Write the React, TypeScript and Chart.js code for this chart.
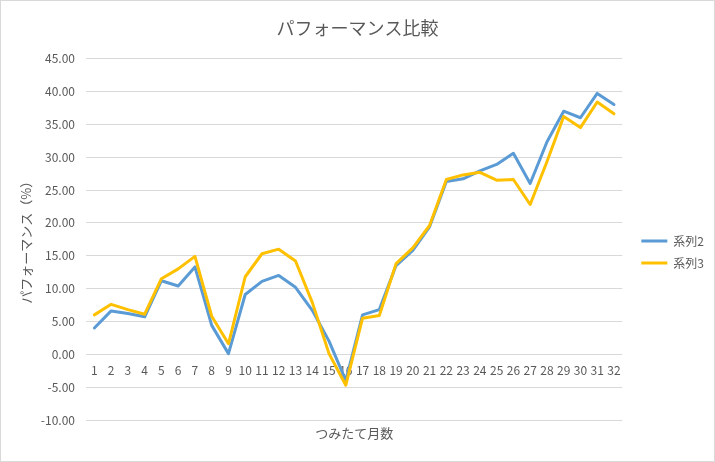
import { useEffect, useRef } from 'react';
import Chart from 'chart.js/auto';

const months = [
  '1', '2', '3', '4', '5', '6', '7', '8', '9', '10', '11', '12', '13', '14', '15', '16',
  '17', '18', '19', '20', '21', '22', '23', '24', '25', '26', '27', '28', '29', '30', '31', '32',
];

// 系列2 (blue)
const series2 = [
  4.0, 6.6, 6.2, 5.7, 11.2, 10.4, 13.3, 4.4, 0.1, 9.1, 11.1, 12.0, 10.2, 6.7, 2.0, -4.0,
  6.0, 6.8, 13.5, 15.8, 19.4, 26.3, 26.7, 27.9, 28.9, 30.6, 26.0, 32.3, 37.0, 36.0, 39.7, 38.0,
];

// 系列3 (yellow)
const series3 = [
  6.0, 7.6, 6.8, 6.1, 11.5, 13.0, 14.9, 5.8, 1.6, 11.8, 15.3, 16.0, 14.2, 7.9, 0.1, -4.7,
  5.5, 5.9, 13.8, 16.2, 19.6, 26.6, 27.3, 27.7, 26.5, 26.6, 22.8, 29.3, 36.2, 34.5, 38.4, 36.6,
];

const yMin = -10;
const yMax = 45;
const yStep = 5;

const BLUE = '#5B9BD5';
const YELLOW = '#FFC000';
const TEXT = '#595959';
const GRID = '#d9d9d9';

export default function App() {
  const canvasRef = useRef<HTMLCanvasElement | null>(null);

  useEffect(() => {
    if (!canvasRef.current) return;
    const ctx = canvasRef.current.getContext('2d');
    if (!ctx) return;

    Chart.defaults.font.family = "'Noto Sans CJK JP', 'Noto Sans', sans-serif";
    Chart.defaults.color = TEXT;

    const chart = new Chart(ctx, {
      type: 'line',
      data: {
        labels: months,
        datasets: [
          {
            label: '系列2',
            data: series2,
            borderColor: BLUE,
            backgroundColor: BLUE,
            borderWidth: 3,
            pointRadius: 0,
            tension: 0,
            borderJoinStyle: 'round',
            borderCapStyle: 'round',
            order: 1,
            xAxisID: 'x',
            yAxisID: 'y',
          },
          {
            label: '系列3',
            data: series3,
            borderColor: YELLOW,
            backgroundColor: YELLOW,
            borderWidth: 3,
            pointRadius: 0,
            tension: 0,
            borderJoinStyle: 'round',
            borderCapStyle: 'round',
            order: 0,
            xAxisID: 'x',
            yAxisID: 'y',
          },
        ],
      },
      options: {
        responsive: true,
        maintainAspectRatio: false,
        animation: false,
        layout: { padding: 0 },
        plugins: {
          title: {
            display: true,
            text: 'パフォーマンス比較',
            color: TEXT,
            font: { size: 18, weight: 'normal' },
            padding: { top: 16, bottom: 20 },
          },
          legend: {
            display: true,
            position: 'right',
            fullSize: false,
            align: 'center',
            title: { display: true, text: '', padding: { top: 11, bottom: 0 } },
            labels: {
              usePointStyle: true,
              pointStyle: 'line',
              pointStyleWidth: 26,
              boxHeight: 12,
              padding: 10,
              color: TEXT,
              font: { size: 12 },
              sort: (a, b) => (a.datasetIndex ?? 0) - (b.datasetIndex ?? 0),
            },
          },
          tooltip: { enabled: false },
        },
        scales: {
          x: {
            type: 'category',
            axis: 'x',
            position: { y: 0 },
            offset: true,
            grid: { display: false, drawTicks: false },
            border: { display: false },
            ticks: {
              autoSkip: false,
              maxRotation: 0,
              padding: 9,
              color: TEXT,
              font: { size: 12 },
            },
          },
          xTitle: {
            type: 'linear',
            axis: 'x',
            position: 'bottom',
            grid: { display: false, drawTicks: false },
            border: { display: false },
            ticks: { display: false },
            title: {
              display: true,
              text: 'つみたて月数',
              color: TEXT,
              font: { size: 13 },
              padding: { top: 0, bottom: 20 },
            },
            afterFit: (s) => {
              s.height = 41;
            },
          },
          y: {
            type: 'linear',
            position: 'left',
            min: yMin,
            max: yMax,
            grid: { color: GRID, lineWidth: 1, drawTicks: false },
            border: { display: false },
            ticks: {
              stepSize: yStep,
              padding: 11,
              color: TEXT,
              font: { size: 12 },
              callback: (v) => Number(v).toFixed(2),
            },
            title: {
              display: true,
              text: 'パフォーマンス（%）',
              color: TEXT,
              font: { size: 13 },
              padding: { top: 17, bottom: 0 },
            },
            afterFit: (s) => {
              s.width = 85;
            },
          },
          yPad: {
            type: 'linear',
            axis: 'y',
            position: 'right',
            grid: { display: false, drawTicks: false },
            border: { display: false },
            ticks: { display: false },
            afterFit: (s) => {
              s.width = 9;
            },
          },
        },
      },
    });

    return () => chart.destroy();
  }, []);

  return (
    <div
      style={{
        position: 'absolute',
        left: 0,
        top: 0,
        width: 715,
        height: 462,
        boxSizing: 'border-box',
        border: `1px solid ${GRID}`,
        background: '#fff',
      }}
    >
      <div style={{ position: 'relative', width: 713, height: 460 }}>
        <canvas ref={canvasRef} />
      </div>
    </div>
  );
}
